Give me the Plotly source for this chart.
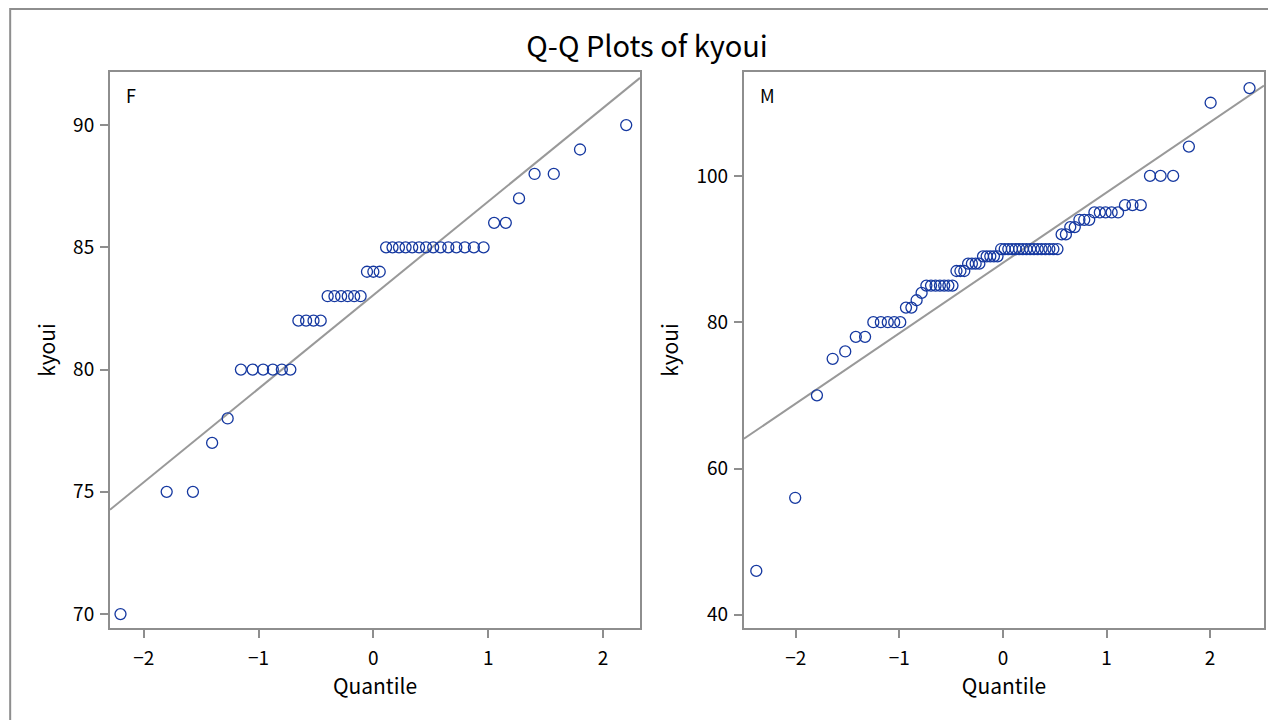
import numpy as np
import plotly.graph_objects as go
from plotly.subplots import make_subplots
from statistics import NormalDist

kyoui_F = [70, 75, 75, 77, 78,
           80, 80, 80, 80, 80, 80,
           82, 82, 82, 82,
           83, 83, 83, 83, 83, 83,
           84, 84, 84,
           85, 85, 85, 85, 85, 85, 85, 85, 85, 85, 85, 85, 85, 85,
           86, 86, 87, 88, 88, 89, 90]

kyoui_M = [46, 56, 70, 75, 76, 78, 78,
           80, 80, 80, 80, 80,
           82, 82, 83, 84,
           85, 85, 85, 85, 85, 85, 85,
           87, 87, 87,
           88, 88, 88, 88,
           89, 89, 89, 89, 89,
           90, 90, 90, 90, 90, 90, 90, 90, 90, 90, 90, 90, 90, 90, 90, 90,
           92, 92, 93, 93, 94, 94, 94,
           95, 95, 95, 95, 95,
           96, 96, 96, 100, 100, 100, 104, 110, 112]

panels = ["F", "M"]
x_ticks = [-2, -1, 0, 1, 2]

MARKER = "#1538a0"
FRAME = "#8e8e8e"
FONT = "Noto Sans CJK JP"


def normal_quantiles(values):
    # Blom plotting positions, as SAS uses for Q-Q plots
    n = len(values)
    nd = NormalDist()
    return [nd.inv_cdf((i + 1 - 0.375) / (n + 0.25)) for i in range(n)]


fig = make_subplots(rows=1, cols=2, horizontal_spacing=0.09)

x_ranges = {"F": [-2.294, 2.323], "M": [-2.50, 2.52]}
y_ranges = {"F": [69.43, 92.17], "M": [38.2, 114.2]}
y_dticks = {"F": 5, "M": 20}

for col, (name, vals) in enumerate(zip(panels, [kyoui_F, kyoui_M]), start=1):
    q = normal_quantiles(vals)
    mu = np.mean(vals)
    sigma = np.std(vals, ddof=1)
    xr = np.array(x_ranges[name])

    # reference line: mu + sigma * quantile
    fig.add_trace(go.Scatter(x=xr, y=mu + sigma * xr, mode="lines",
                             line=dict(color="#999999", width=2),
                             showlegend=False, hoverinfo="skip"), row=1, col=col)
    fig.add_trace(go.Scatter(x=q, y=vals, mode="markers",
                             marker=dict(symbol="circle-open", size=11, color=MARKER,
                                         line=dict(width=1.3, color=MARKER)),
                             showlegend=False), row=1, col=col)

    fig.update_xaxes(range=x_ranges[name], tickvals=x_ticks, row=1, col=col)
    fig.update_yaxes(range=y_ranges[name], dtick=y_dticks[name], row=1, col=col)

    xd = "x domain" if col == 1 else "x2 domain"
    yd = "y domain" if col == 1 else "y2 domain"
    fig.add_annotation(text=name, xref=xd, yref=yd, x=0, y=1, xanchor="left", yanchor="top",
                       xshift=14, yshift=-8, showarrow=False,
                       font=dict(family=FONT, size=18, color="black"))

axis_style = dict(showline=True, linecolor=FRAME, linewidth=2, mirror=True,
                  ticks="outside", ticklen=8, tickwidth=2, tickcolor=FRAME,
                  showgrid=False, zeroline=False,
                  tickfont=dict(family=FONT, size=19, color="black"),
                  title_font=dict(family=FONT, size=21, color="black"))
fig.update_xaxes(**axis_style, title_text="Quantile", title_standoff=6, ticklabelstandoff=4)
fig.update_yaxes(**axis_style, title_text="kyoui", title_standoff=12, ticklabelstandoff=2)

fig.update_layout(xaxis=dict(domain=[0, 0.4593]), xaxis2=dict(domain=[0.5493, 1]))

# outer frame around the graph
fig.add_shape(type="rect", xref="paper", yref="paper", x0=-0.0865, x1=1.2, y0=-0.4, y1=1.1133,
              line=dict(color=FRAME, width=2), fillcolor="rgba(0,0,0,0)", layer="below")

# page body adds an 8px offset, so the figure is 8px smaller than the window
fig.update_layout(
    width=1268, height=712,
    margin=dict(l=102, r=10, t=64, b=92),
    paper_bgcolor="white", plot_bgcolor="white",
    title=dict(text="Q-Q Plots of kyoui", x=0.4654, xref="paper", xanchor="center",
               y=0.945, yanchor="middle",
               font=dict(family=FONT, size=29, color="black")),
    font=dict(family=FONT),
)

fig.write_html("out.html")
